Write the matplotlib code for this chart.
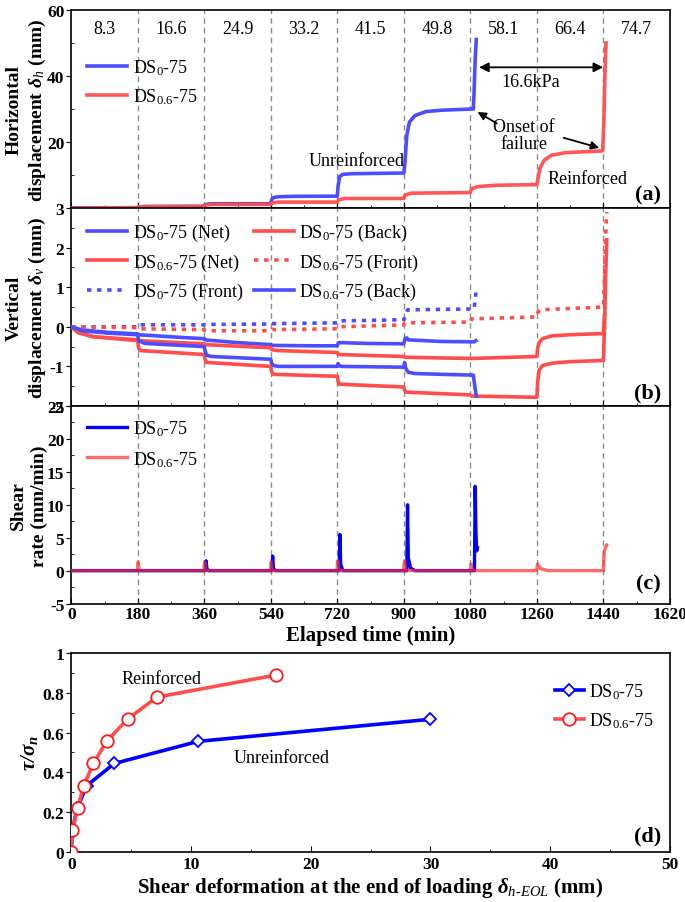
import matplotlib
matplotlib.use('Agg')
import matplotlib.pyplot as plt
import numpy as np
from matplotlib.ticker import MultipleLocator

plt.rcParams['font.family'] = ['Liberation Serif', 'DejaVu Serif']
plt.rcParams['mathtext.fontset'] = 'custom'
plt.rcParams['mathtext.rm'] = 'Liberation Serif'
plt.rcParams['mathtext.it'] = 'Liberation Serif:italic'
plt.rcParams['mathtext.bf'] = 'Liberation Serif:bold'
plt.rcParams['mathtext.bfit'] = 'Liberation Serif:italic:bold'
plt.rcParams['axes.unicode_minus'] = False

BLUE = '#4d4dff'
RED = '#ff4d4d'
DEEPBLUE = '#0000ff'

# stage loads (kPa) and stage boundaries (min)
loads = ['8.3', '16.6', '24.9', '33.2', '41.5', '49.8', '58.1', '66.4', '74.7']
stage_ends = [180, 360, 540, 720, 900, 1080, 1260, 1440]

# (a) horizontal displacement
a_blue_t = [0, 5, 180, 182, 200, 360, 362, 375, 540, 542, 548, 560, 600, 720, 722, 726, 735, 760,
            900, 903, 908, 915, 930, 960, 1000, 1088, 1090, 1093, 1096]
a_blue_v = [0, 0.05, 0.1, 0.3, 0.45, 0.5, 1.0, 1.3, 1.3, 2.5, 3.2, 3.4, 3.55, 3.6, 6.5, 9.5, 10.2, 10.4,
            10.6, 14, 22, 26, 28, 29.2, 29.6, 30, 35, 45, 51]
a_red_t = [0, 180, 182, 200, 360, 363, 380, 540, 543, 560, 720, 723, 740, 900, 903, 920, 1080, 1083,
           1100, 1150, 1260, 1263, 1268, 1280, 1300, 1340, 1400, 1438, 1441, 1444, 1447]
a_red_v = [0, 0.1, 0.3, 0.45, 0.5, 0.9, 1.1, 1.1, 1.5, 1.8, 1.8, 2.5, 2.9, 2.9, 3.9, 4.5, 4.7, 5.8,
           6.5, 6.9, 7.1, 9, 12, 14.5, 16.0, 16.8, 17.1, 17.3, 25, 40, 50]

# (b) vertical displacement
b_blue_net_t = [0, 30, 100, 180, 182, 300, 360, 362, 450, 540, 545, 650, 720, 723, 730, 800, 900, 903,
                908, 912, 1000, 1090, 1095]
b_blue_net_v = [0, -0.08, -0.14, -0.18, -0.2, -0.27, -0.3, -0.33, -0.4, -0.45, -0.47, -0.48, -0.48,
                -0.4, -0.4, -0.42, -0.43, -0.3, -0.28, -0.33, -0.37, -0.38, -0.35]
b_blue_back_t = [0, 30, 100, 180, 182, 200, 360, 362, 366, 380, 540, 542, 548, 560, 720, 722, 725, 730,
                 900, 902, 905, 912, 930, 1000, 1088, 1092, 1096]
b_blue_back_v = [0, -0.1, -0.16, -0.2, -0.35, -0.42, -0.5, -0.6, -0.72, -0.75, -0.82, -0.92, -0.98, -1.0,
                 -1.0, -0.93, -0.98, -1.0, -1.02, -0.9, -1.05, -1.15, -1.18, -1.2, -1.22, -1.5, -1.75]
b_red_net_t = [0, 20, 60, 180, 182, 360, 363, 540, 543, 560, 720, 723, 900, 903, 1080, 1083, 1260, 1262,
               1266, 1275, 1300, 1350, 1440, 1443]
b_red_net_v = [0, -0.15, -0.25, -0.33, -0.35, -0.43, -0.45, -0.53, -0.58, -0.6, -0.65, -0.7, -0.75, -0.77,
               -0.8, -0.8, -0.75, -0.55, -0.4, -0.3, -0.23, -0.2, -0.17, 0.3]
b_red_back_t = [0, 20, 60, 180, 182, 186, 360, 362, 366, 540, 542, 546, 720, 722, 726, 900, 902, 906,
                1080, 1083, 1260, 1262, 1266, 1275, 1300, 1350, 1440, 1443, 1446, 1449]
b_red_back_v = [0, -0.15, -0.25, -0.35, -0.52, -0.6, -0.7, -0.82, -0.9, -1.0, -1.12, -1.2, -1.25, -1.38,
                -1.45, -1.52, -1.6, -1.65, -1.72, -1.75, -1.78, -1.4, -1.1, -0.98, -0.92, -0.88, -0.85,
                0.0, 1.2, 2.2]
b_blue_front_t = [0, 180, 182, 360, 363, 540, 543, 720, 723, 800, 900, 903, 910, 1090, 1093, 1096]
b_blue_front_v = [0, 0.0, 0.05, 0.05, 0.06, 0.07, 0.08, 0.1, 0.15, 0.16, 0.18, 0.25, 0.43, 0.45, 0.7, 0.92]
b_red_front_t = [0, 180, 182, 360, 363, 540, 543, 720, 723, 900, 903, 1080, 1083, 1260, 1263, 1270,
                 1440, 1443, 1446, 1449]
b_red_front_v = [0, -0.02, -0.05, -0.07, -0.1, -0.1, -0.07, -0.05, 0.0, 0.05, 0.1, 0.12, 0.2, 0.25, 0.38,
                 0.43, 0.5, 1.3, 2.3, 2.9]

# (c) shear rate
c_blue_t = [0, 363, 365, 367, 371, 543, 545, 547, 552, 725, 727, 729, 735, 908, 910, 912, 918, 930,
            1091, 1093, 1095, 1097, 1099]
c_blue_v = [0, 0, 1.5, 0.3, 0, 0, 2.2, 0.4, 0, 0, 5.5, 1.0, 0, 0, 10.0, 2.0, 0.4, 0,
            0, 12.8, 6.0, 3.0, 3.5]
c_red_t = [0, 179, 181, 184, 359, 361, 364, 539, 541, 544, 719, 721, 724, 899, 902, 906, 1079, 1082,
           1086, 1259, 1262, 1270, 1290, 1440, 1442, 1445, 1449]
c_red_v = [0, 0, 1.3, 0, 0, 1.3, 0, 0, 1.3, 0, 0, 1.5, 0, 0, 1.5, 0, 0, 1.0,
           0, 0, 1.0, 0.3, 0, 0, 2.8, 3.4, 3.9]

# (d) stress ratio vs shear deformation at end of loading
d_tau = [0, 1 / 9, 2 / 9, 3 / 9, 4 / 9, 5 / 9, 6 / 9, 7 / 9, 8 / 9]
d_blue_x = [0, 0.1, 0.5, 1.3, 3.6, 10.6, 30.0]
d_red_x = [0, 0.1, 0.55, 1.05, 1.85, 2.95, 4.7, 7.15, 17.1]

fig = plt.figure(figsize=(6.85, 9.03), dpi=100)
L, W = 0.104, 0.874
ax_a = fig.add_axes([L, 0.7685, W, 0.2195])
ax_b = fig.add_axes([L, 0.5493, W, 0.2192])
ax_c = fig.add_axes([L, 0.3305, W, 0.2188])
ax_d = fig.add_axes([L, 0.0555, W, 0.2203])

TICK = 12.5
LAB = 14
YLAB_X = -0.039


def style_time_axis(ax, show_labels):
    ax.set_xlim(0, 1620)
    ax.set_xticks(np.arange(0, 1621, 180))
    ax.xaxis.set_minor_locator(MultipleLocator(90))
    ax.tick_params(axis='x', which='both', direction='in', top=False, length=4,
                   labelbottom=show_labels, labelsize=TICK, pad=2)
    ax.tick_params(axis='x', which='minor', length=2.5)
    ax.tick_params(axis='y', which='major', direction='out', length=3.5, labelsize=TICK, pad=1.5)
    ax.tick_params(axis='y', which='minor', direction='in', length=2.5)
    for lbl in ax.get_xticklabels() + ax.get_yticklabels():
        lbl.set_fontweight('bold')
    for s in ax.spines.values():
        s.set_linewidth(1.2)
    for t in stage_ends:
        ax.axvline(t, color='#8c8c8c', lw=1.0, ls=(0, (4, 3)), zorder=1)


# ---------- (a)
ax = ax_a
ax.plot(a_blue_t, a_blue_v, color=BLUE, lw=2.6, label='DS$_0$-75', zorder=3)
ax.plot(a_red_t, a_red_v, color=RED, lw=2.6, label='DS$_{0.6}$-75', zorder=4, alpha=0.95)
ax.set_ylim(0, 60)
ax.set_yticks([20, 40, 60])
ax.yaxis.set_minor_locator(MultipleLocator(10))
style_time_axis(ax, False)
for i, s in enumerate(loads):
    ax.text(90 + 180 * i, 54.5, s, ha='center', va='center', fontsize=13)
ax.set_ylabel('Horizontal\ndisplacement $\\mathbfit{\\delta}_h$ (mm)', fontsize=LAB,
              fontweight='bold', linespacing=1.25)
ax.yaxis.set_label_coords(YLAB_X, 0.5)
ax.legend(loc='upper left', bbox_to_anchor=(0.0, 0.84), frameon=False, fontsize=13,
          handlelength=2.2, handletextpad=0.3, labelspacing=0.5)
ax.annotate('', xy=(1096, 42.6), xytext=(1447, 42.6),
            arrowprops=dict(arrowstyle='<|-|>', color='black', lw=1.3, mutation_scale=14))
ax.text(1243, 38.4, '16.6kPa', ha='center', va='center', fontsize=13)
ax.text(1225, 22.2, 'Onset of\nfailure', ha='center', va='center', fontsize=13, linespacing=1.0)
ax.annotate('', xy=(1093, 29.5), xytext=(1158, 25.2),
            arrowprops=dict(arrowstyle='-|>', color='black', lw=1.3, mutation_scale=12))
ax.annotate('', xy=(1436, 18.0), xytext=(1325, 21.5),
            arrowprops=dict(arrowstyle='-|>', color='black', lw=1.3, mutation_scale=12))
ax.text(773, 14.3, 'Unreinforced', ha='center', va='center', fontsize=13)
ax.text(1398, 8.8, 'Reinforced', ha='center', va='center', fontsize=13)
ax.text(0.985, 0.07, '(a)', transform=ax.transAxes, ha='right', va='center', fontsize=16,
        fontweight='bold')

# ---------- (b)
ax = ax_b
ax.plot(b_blue_net_t, b_blue_net_v, color=BLUE, lw=2.6, label='DS$_0$-75 (Net)', zorder=3)
ax.plot(b_red_net_t, b_red_net_v, color=RED, lw=2.6, label='DS$_{0.6}$-75 (Net)', zorder=3)
ax.plot(b_blue_front_t, b_blue_front_v, color=BLUE, lw=2.6, ls=(0, (1.2, 1.6)),
        label='DS$_0$-75 (Front)', zorder=3)
ax.plot(b_red_back_t, b_red_back_v, color=RED, lw=2.6, label='DS$_0$-75 (Back)', zorder=3)
ax.plot(b_red_front_t, b_red_front_v, color=RED, lw=2.6, ls=(0, (1.2, 1.6)),
        label='DS$_{0.6}$-75 (Front)', zorder=3)
ax.plot(b_blue_back_t, b_blue_back_v, color=BLUE, lw=2.6, label='DS$_{0.6}$-75 (Back)', zorder=3)
ax.set_ylim(-2, 3)
ax.set_yticks([-2, -1, 0, 1, 2, 3])
ax.yaxis.set_minor_locator(MultipleLocator(0.5))
style_time_axis(ax, False)
ax.set_ylabel('Vertical\ndisplacement $\\mathbfit{\\delta}_v$ (mm)', fontsize=LAB,
              fontweight='bold', linespacing=1.25)
ax.yaxis.set_label_coords(YLAB_X, 0.5)
ax.legend(loc='upper left', bbox_to_anchor=(0.0, 1.01), ncol=2, frameon=False, fontsize=13,
          handlelength=2.2, handletextpad=0.3, labelspacing=0.45, columnspacing=0.6)
ax.text(0.985, 0.07, '(b)', transform=ax.transAxes, ha='right', va='center', fontsize=16,
        fontweight='bold')

# ---------- (c)
ax = ax_c
ax.plot(c_blue_t, c_blue_v, color=DEEPBLUE, lw=2.4, label='DS$_0$-75', zorder=3)
ax.plot(c_red_t, c_red_v, color='#ff2a2a', lw=2.4, alpha=0.7, label='DS$_{0.6}$-75', zorder=4)
ax.set_ylim(-5, 25)
ax.set_yticks([-5, 0, 5, 10, 15, 20, 25])
ax.yaxis.set_minor_locator(MultipleLocator(2.5))
style_time_axis(ax, True)
ax.set_ylabel('Shear\nrate (mm/min)', fontsize=LAB, fontweight='bold', linespacing=1.25)
ax.yaxis.set_label_coords(YLAB_X, 0.5)
ax.set_xlabel('Elapsed time (min)', fontsize=15, fontweight='bold', labelpad=2)
ax.legend(loc='upper left', bbox_to_anchor=(0.0, 1.02), frameon=False, fontsize=13,
          handlelength=2.2, handletextpad=0.3, labelspacing=0.6)
ax.text(0.985, 0.1, '(c)', transform=ax.transAxes, ha='right', va='center', fontsize=16,
        fontweight='bold')

# ---------- (d)
ax = ax_d
ax.plot(d_blue_x, d_tau[:len(d_blue_x)], color=DEEPBLUE, lw=2.6, marker='D', ms=6, mfc='white',
        mec=DEEPBLUE, mew=1.3, label='DS$_0$-75', zorder=3)
ax.plot(d_red_x, d_tau, color='#ff4d4d', lw=2.6, marker='o', ms=9, mfc='white',
        mec='#ff1a1a', mew=1.3, label='DS$_{0.6}$-75', zorder=4)
ax.set_xlim(0, 50)
ax.set_ylim(0, 1)
ax.set_xticks([0, 10, 20, 30, 40, 50])
ax.xaxis.set_minor_locator(MultipleLocator(5))
ax.set_yticks([0, 0.2, 0.4, 0.6, 0.8, 1])
ax.set_yticklabels(['0', '0.2', '0.4', '0.6', '0.8', '1'])
ax.yaxis.set_minor_locator(MultipleLocator(0.1))
ax.tick_params(axis='x', which='both', direction='in', length=4, labelsize=TICK, pad=3)
ax.tick_params(axis='x', which='minor', length=2.5)
ax.tick_params(axis='y', which='major', direction='out', length=3.5, labelsize=TICK, pad=1.5)
ax.tick_params(axis='y', which='minor', direction='in', length=2.5)
for lbl in ax.get_xticklabels() + ax.get_yticklabels():
    lbl.set_fontweight('bold')
for s in ax.spines.values():
    s.set_linewidth(1.2)
ax.text(7.5, 0.87, 'Reinforced', ha='center', va='center', fontsize=13)
ax.text(17.6, 0.475, 'Unreinforced', ha='center', va='center', fontsize=13)
ax.set_ylabel('$\\mathbfit{\\tau/\\sigma_n}$', fontsize=15)
ax.yaxis.set_label_coords(-0.052, 0.5)
ax.set_xlabel('Shear deformation at the end of loading $\\mathbfit{\\delta}_{h\\text{-}EOL}$ (mm)',
              fontsize=15, fontweight='bold', labelpad=2)
ax.legend(loc='upper right', bbox_to_anchor=(1.0, 0.94), frameon=False, fontsize=13,
          handlelength=1.6, handletextpad=0.3, labelspacing=0.5)
ax.text(0.985, 0.08, '(d)', transform=ax.transAxes, ha='right', va='center', fontsize=16,
        fontweight='bold')

fig.savefig('out.png', dpi=100)
